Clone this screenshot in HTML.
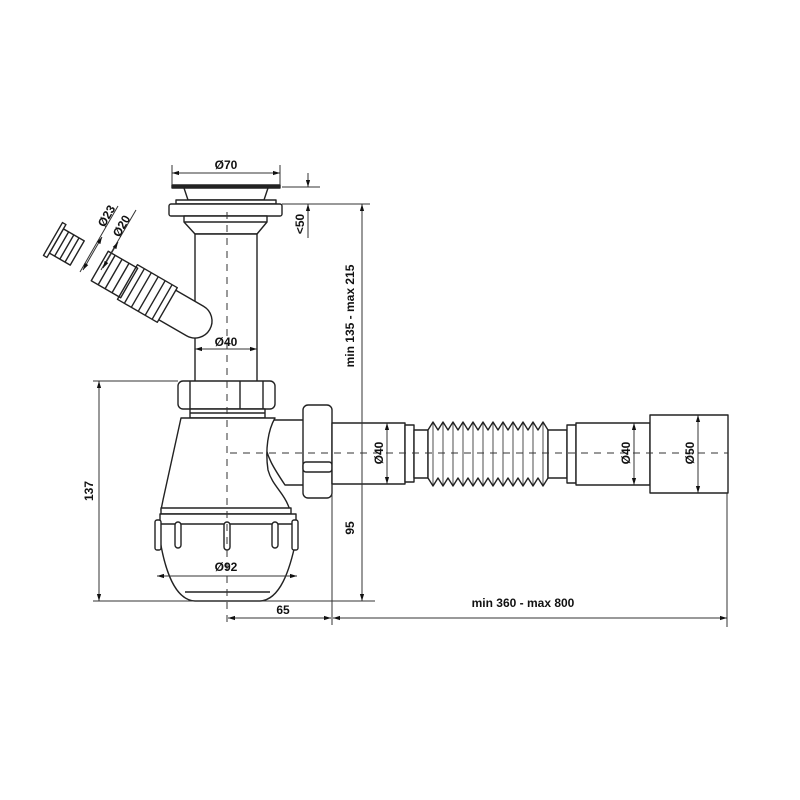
<!DOCTYPE html>
<html><head><meta charset="utf-8"><style>
html,body{margin:0;padding:0;background:#fff}
svg{display:block}
text{font-family:"Liberation Sans",Arial,sans-serif;font-weight:bold;font-size:12px;fill:#111}
</style></head><body>
<svg width="800" height="800" viewBox="0 0 800 800" xmlns="http://www.w3.org/2000/svg">
<defs>
<marker id="a" viewBox="0 0 10 10" refX="10" refY="5" markerWidth="7" markerHeight="7" orient="auto-start-reverse"><path d="M0,2 L10,5 L0,8 z" fill="#111"/></marker>
</defs>
<g fill="#fff" stroke="#222" stroke-width="1.4" stroke-linejoin="round">
<rect x="172" y="185" width="108" height="3" fill="#222"/>
<path d="M184,188 L268,188 L264,200 L188,200 Z"/>
<rect x="176" y="200" width="100" height="4"/>
<rect x="169" y="204" width="113" height="12" rx="2"/>
<path d="M184,216 L267,216 L267,222 L257,234 L195,234 L184,222 Z"/>
<line x1="184" y1="222" x2="267" y2="222"/>
<rect x="195" y="234" width="62" height="148"/>
<!-- side hose -->
<g transform="translate(195,321) rotate(30)">
<path d="M-34,-17 L0,-17 A17,17 0 0 1 0,17 L-34,17 Z"/>
<rect x="-78" y="-20" width="46" height="40"/>
<line x1="-70" y1="-20" x2="-70" y2="20"/><line x1="-62" y1="-20" x2="-62" y2="20"/><line x1="-54" y1="-20" x2="-54" y2="20"/><line x1="-46" y1="-20" x2="-46" y2="20"/><line x1="-38" y1="-20" x2="-38" y2="20"/>
<rect x="-110" y="-17" width="34" height="34"/>
<line x1="-102" y1="-17" x2="-102" y2="17"/><line x1="-94" y1="-17" x2="-94" y2="17"/><line x1="-86" y1="-17" x2="-86" y2="17"/><line x1="-78" y1="-17" x2="-78" y2="17"/>
<rect x="-160" y="-14" width="24" height="28"/>
<line x1="-154" y1="-14" x2="-154" y2="14"/><line x1="-148" y1="-14" x2="-148" y2="14"/><line x1="-142" y1="-14" x2="-142" y2="14"/>
<rect x="-164" y="-19" width="4" height="38"/>
</g>
<rect x="178" y="381" width="97" height="28" rx="5"/>
<line x1="190" y1="381" x2="190" y2="409"/><line x1="240" y1="381" x2="240" y2="409"/><line x1="263" y1="381" x2="263" y2="409"/>
<rect x="190" y="409" width="75" height="9"/>
<line x1="190" y1="413" x2="265" y2="413"/>
<path d="M265,420 L305,420 L305,485 L285,485 C275,470 265,455 265,440 Z"/>
<path d="M181,418 L275,418 C268,430 265,450 268,470 C272,485 283,492 288,505 L290,510 L161,510 L163,500 Z"/>
<rect x="161" y="508" width="130" height="6"/>
<path d="M160,514 L296,514 L296,540 C290,570 280,600 260,601 L195,601 C175,600 165,570 160,540 Z"/>
<line x1="160" y1="524" x2="296" y2="524"/>
<line x1="185" y1="592" x2="270" y2="592"/>
<rect x="155" y="520" width="6" height="30" rx="2"/><rect x="292" y="520" width="6" height="30" rx="2"/>
<rect x="175" y="522" width="6" height="26" rx="3"/><rect x="224" y="522" width="6" height="28" rx="3"/><rect x="272" y="522" width="6" height="26" rx="3"/>
<rect x="303" y="405" width="29" height="93" rx="5"/>
<rect x="303" y="462" width="29" height="10" rx="3"/>
<rect x="332" y="423" width="73" height="61"/>
<rect x="405" y="425" width="9" height="57"/>
<rect x="414" y="430" width="14" height="48"/>
<path d="M428,430 L433,422 L438,430 L443,422 L448,430 L453,422 L458,430 L463,422 L468,430 L473,422 L478,430 L483,422 L488,430 L493,422 L498,430 L503,422 L508,430 L513,422 L518,430 L523,422 L528,430 L533,422 L538,430 L543,422 L548,430 L548,478 L543,486 L538,478 L533,486 L528,478 L523,486 L518,478 L513,486 L508,478 L503,486 L498,478 L493,486 L488,478 L483,486 L478,478 L473,486 L468,478 L463,486 L458,478 L453,486 L448,478 L443,486 L438,478 L433,486 L428,478 Z"/>
<g stroke-width="0.8"><line x1="433" y1="422" x2="433" y2="486"/><line x1="443" y1="422" x2="443" y2="486"/><line x1="453" y1="422" x2="453" y2="486"/><line x1="463" y1="422" x2="463" y2="486"/><line x1="473" y1="422" x2="473" y2="486"/><line x1="483" y1="422" x2="483" y2="486"/><line x1="493" y1="422" x2="493" y2="486"/><line x1="503" y1="422" x2="503" y2="486"/><line x1="513" y1="422" x2="513" y2="486"/><line x1="523" y1="422" x2="523" y2="486"/><line x1="533" y1="422" x2="533" y2="486"/><line x1="543" y1="422" x2="543" y2="486"/></g>
<rect x="548" y="430" width="19" height="48"/>
<rect x="567" y="425" width="9" height="58"/>
<rect x="576" y="423" width="74" height="62"/>
<rect x="650" y="415" width="78" height="78"/>
</g>
<g stroke="#333" stroke-width="1" stroke-dasharray="7,6" fill="none">
<line x1="227" y1="212" x2="227" y2="625"/>
<line x1="230" y1="453" x2="728" y2="453"/>
</g>
<g stroke="#333" stroke-width="1" fill="none">
<line x1="172" y1="165" x2="172" y2="185"/><line x1="280" y1="165" x2="280" y2="185"/>
<line x1="172" y1="173" x2="280" y2="173" marker-start="url(#a)" marker-end="url(#a)"/>
<line x1="282" y1="187" x2="320" y2="187"/><line x1="282" y1="204" x2="370" y2="204"/>
<line x1="308" y1="173" x2="308" y2="187" marker-end="url(#a)"/>
<line x1="308" y1="204" x2="308" y2="238"/>
<line x1="308" y1="220" x2="308" y2="204" marker-end="url(#a)"/>
<line x1="362" y1="204" x2="362" y2="601" marker-start="url(#a)" marker-end="url(#a)"/>
<line x1="93" y1="381" x2="178" y2="381"/>
<line x1="93" y1="601" x2="375" y2="601"/>
<line x1="99" y1="381" x2="99" y2="601" marker-start="url(#a)" marker-end="url(#a)"/>
<line x1="195" y1="349" x2="257" y2="349" marker-start="url(#a)" marker-end="url(#a)"/>
<line x1="157" y1="576" x2="297" y2="576" marker-start="url(#a)" marker-end="url(#a)"/>
<line x1="332" y1="484" x2="332" y2="625"/>
<line x1="727" y1="493" x2="727" y2="627"/>
<line x1="228" y1="618" x2="331" y2="618" marker-start="url(#a)" marker-end="url(#a)"/>
<line x1="333" y1="618" x2="727" y2="618" marker-start="url(#a)" marker-end="url(#a)"/>
<line x1="387" y1="423" x2="387" y2="484" marker-start="url(#a)" marker-end="url(#a)"/>
<line x1="634" y1="423" x2="634" y2="485" marker-start="url(#a)" marker-end="url(#a)"/>
<line x1="698" y1="415" x2="698" y2="493" marker-start="url(#a)" marker-end="url(#a)"/>
<line x1="80" y1="272" x2="118" y2="206"/>
<line x1="101" y1="270" x2="136" y2="210"/>
<line x1="83" y1="270" x2="102" y2="237" marker-start="url(#a)" marker-end="url(#a)"/>
<line x1="103" y1="268" x2="118" y2="242" marker-start="url(#a)" marker-end="url(#a)"/>
</g>
<text x="226" y="169" text-anchor="middle">Ø70</text>
<text x="226" y="346" text-anchor="middle">Ø40</text>
<text x="226" y="571" text-anchor="middle">Ø92</text>
<text x="283" y="614" text-anchor="middle">65</text>
<text x="523" y="607" text-anchor="middle">min 360 - max 800</text>
<text transform="translate(304,224) rotate(-90)" text-anchor="middle">&lt;50</text>
<text transform="translate(354,316) rotate(-90)" text-anchor="middle">min 135 - max 215</text>
<text transform="translate(354,528) rotate(-90)" text-anchor="middle">95</text>
<text transform="translate(93,491) rotate(-90)" text-anchor="middle">137</text>
<text transform="translate(383,453) rotate(-90)" text-anchor="middle">Ø40</text>
<text transform="translate(630,453) rotate(-90)" text-anchor="middle">Ø40</text>
<text transform="translate(694,453) rotate(-90)" text-anchor="middle">Ø50</text>
<text transform="translate(110,218) rotate(-60)" text-anchor="middle">Ø23</text>
<text transform="translate(125,228) rotate(-60)" text-anchor="middle">Ø20</text>
</svg>
</body></html>
